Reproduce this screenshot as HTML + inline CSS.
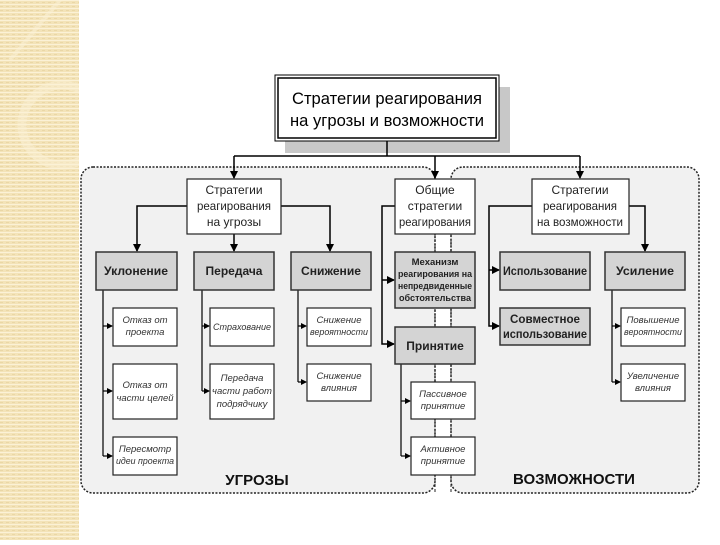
<!DOCTYPE html>
<html><head><meta charset="utf-8"><style>
html,body{margin:0;padding:0;background:#fff;}
svg text{font-family:"Liberation Sans",sans-serif;}
</style></head><body>
<svg width="720" height="540" viewBox="0 0 720 540" xmlns="http://www.w3.org/2000/svg">
<defs>
<pattern id="st" width="6" height="4" patternUnits="userSpaceOnUse">
<rect width="6" height="4" fill="#f3e3b8"/><rect y="0" width="6" height="1" fill="#fbf1d6"/><rect x="0" y="2" width="3" height="1" fill="#ead7a6"/>
</pattern>
<clipPath id="cl"><rect x="0" y="0" width="79" height="540"/></clipPath>
<marker id="a" markerWidth="8" markerHeight="8" refX="7" refY="4" orient="auto" markerUnits="userSpaceOnUse"><path d="M0,0 L8,4 L0,8 z" fill="#000"/></marker>
<marker id="s" markerWidth="6" markerHeight="6" refX="5" refY="3" orient="auto" markerUnits="userSpaceOnUse"><path d="M0,0 L6,3 L0,6 z" fill="#000"/></marker>
</defs>
<rect x="0" y="0" width="79" height="540" fill="url(#st)"/>
<g clip-path="url(#cl)" opacity="0.5">
<circle cx="62" cy="125" r="40" fill="none" stroke="#fbf1d6" stroke-width="9"/>
<path d="M10,60 L60,0" stroke="#fbf1d6" stroke-width="4"/>
</g>
<!-- regions -->
<rect x="81" y="167" width="354" height="326" rx="12" fill="#f1f1f1" stroke="#222" stroke-width="1.5" stroke-dasharray="2,1.5"/>
<rect x="451" y="167" width="248" height="326" rx="12" fill="#f1f1f1" stroke="#222" stroke-width="1.5" stroke-dasharray="2,1.5"/>
<g stroke="#222" stroke-dasharray="3,2" stroke-width="1"><line x1="435" y1="234" x2="435" y2="493"/><line x1="451" y1="234" x2="451" y2="493"/></g>
<!-- top box -->
<rect x="285" y="87" width="225" height="66" fill="#c8c8c8"/>
<rect x="275" y="75" width="224" height="66" fill="#fff" stroke="#000" stroke-width="1"/>
<rect x="278" y="78" width="218" height="60" fill="none" stroke="#000" stroke-width="1.5"/>
<text x="387" y="104" font-size="17" text-anchor="middle" textLength="190" lengthAdjust="spacingAndGlyphs">Стратегии реагирования</text>
<text x="387" y="126" font-size="17" text-anchor="middle" textLength="194" lengthAdjust="spacingAndGlyphs">на угрозы и возможности</text>
<g stroke="#000" stroke-width="1.5" fill="none">
<path d="M387,141 V156 M234,156 H580"/>
<path d="M234,156 V178" marker-end="url(#a)"/><path d="M435,156 V178" marker-end="url(#a)"/><path d="M580,156 V178" marker-end="url(#a)"/>
<path d="M187,206 H137 V251" marker-end="url(#a)"/><path d="M234,234 V251" marker-end="url(#a)"/><path d="M281,206 H330 V251" marker-end="url(#a)"/>
<path d="M395,206 H382 V344 H394" marker-end="url(#a)"/><path d="M382,280 H394" marker-end="url(#a)"/>
<path d="M532,206 H489 V326 H499" marker-end="url(#a)"/><path d="M489,270 H499" marker-end="url(#a)"/>
<path d="M629,206 H645 V251" marker-end="url(#a)"/>
</g>
<g stroke="#000" stroke-width="1.2" fill="none">
<path d="M103,290 V456"/><path d="M103,326 H112" marker-end="url(#s)"/><path d="M103,391 H112" marker-end="url(#s)"/><path d="M103,456 H112" marker-end="url(#s)"/>
<path d="M202,290 V391"/><path d="M202,326 H209" marker-end="url(#s)"/><path d="M202,391 H209" marker-end="url(#s)"/>
<path d="M298,290 V382"/><path d="M298,326 H306" marker-end="url(#s)"/><path d="M298,382 H306" marker-end="url(#s)"/>
<path d="M401,364 V456"/><path d="M401,401 H410" marker-end="url(#s)"/><path d="M401,456 H410" marker-end="url(#s)"/>
<path d="M612,290 V382"/><path d="M612,326 H620" marker-end="url(#s)"/><path d="M612,382 H620" marker-end="url(#s)"/>
</g>
<g fill="#fff" stroke="#222" stroke-width="1.2">
<rect x="187" y="179" width="94" height="55"/><rect x="395" y="179" width="80" height="55"/><rect x="532" y="179" width="97" height="55"/>
</g>
<g font-size="12" text-anchor="middle" fill="#222">
<text x="234" y="194">Стратегии</text><text x="234" y="210" textLength="74" lengthAdjust="spacingAndGlyphs">реагирования</text><text x="234" y="226">на угрозы</text>
<text x="435" y="194">Общие</text><text x="435" y="210">стратегии</text><text x="435" y="226" textLength="72" lengthAdjust="spacingAndGlyphs">реагирования</text>
<text x="580" y="194">Стратегии</text><text x="580" y="210" textLength="74" lengthAdjust="spacingAndGlyphs">реагирования</text><text x="580" y="226" textLength="86" lengthAdjust="spacingAndGlyphs">на возможности</text>
</g>
<g fill="#d4d4d4" stroke="#333" stroke-width="1.5">
<rect x="96" y="252" width="81" height="38"/><rect x="194" y="252" width="80" height="38"/><rect x="291" y="252" width="80" height="38"/>
<rect x="395" y="252" width="80" height="56"/><rect x="500" y="252" width="90" height="38"/><rect x="605" y="252" width="80" height="38"/>
<rect x="500" y="308" width="90" height="37"/><rect x="395" y="327" width="80" height="37"/>
</g>
<g font-size="12" font-weight="bold" text-anchor="middle" fill="#222">
<text x="136" y="275" textLength="64" lengthAdjust="spacingAndGlyphs">Уклонение</text><text x="234" y="275">Передача</text><text x="331" y="275" textLength="60" lengthAdjust="spacingAndGlyphs">Снижение</text>
<text x="545" y="275" textLength="84" lengthAdjust="spacingAndGlyphs">Использование</text><text x="645" y="275" textLength="58" lengthAdjust="spacingAndGlyphs">Усиление</text>
<text x="545" y="323" textLength="70" lengthAdjust="spacingAndGlyphs">Совместное</text><text x="545" y="338" textLength="84" lengthAdjust="spacingAndGlyphs">использование</text><text x="435" y="350">Принятие</text>
</g>
<g font-size="9.5" font-weight="bold" text-anchor="middle" fill="#222">
<text x="435" y="265">Механизм</text><text x="435" y="277" textLength="74" lengthAdjust="spacingAndGlyphs">реагирования на</text><text x="435" y="289" textLength="74" lengthAdjust="spacingAndGlyphs">непредвиденные</text><text x="435" y="301" textLength="72" lengthAdjust="spacingAndGlyphs">обстоятельства</text>
</g>
<g fill="#fff" stroke="#222" stroke-width="1.2">
<rect x="113" y="308" width="64" height="38"/><rect x="113" y="364" width="64" height="55"/><rect x="113" y="437" width="64" height="38"/>
<rect x="210" y="308" width="64" height="38"/><rect x="210" y="364" width="64" height="55"/>
<rect x="307" y="308" width="64" height="38"/><rect x="307" y="364" width="64" height="37"/>
<rect x="411" y="382" width="64" height="37"/><rect x="411" y="437" width="64" height="38"/>
<rect x="621" y="308" width="64" height="38"/><rect x="621" y="364" width="64" height="37"/>
</g>
<g font-size="9.5" font-style="italic" text-anchor="middle" fill="#333">
<text x="145" y="323">Отказ от</text><text x="145" y="335">проекта</text>
<text x="145" y="388">Отказ от</text><text x="145" y="401">части целей</text>
<text x="145" y="452">Пересмотр</text><text x="145" y="464" textLength="58" lengthAdjust="spacingAndGlyphs">идеи проекта</text>
<text x="242" y="330" textLength="58" lengthAdjust="spacingAndGlyphs">Страхование</text>
<text x="242" y="381">Передача</text><text x="242" y="394">части работ</text><text x="242" y="407">подрядчику</text>
<text x="339" y="323">Снижение</text><text x="339" y="335" textLength="58" lengthAdjust="spacingAndGlyphs">вероятности</text>
<text x="339" y="379">Снижение</text><text x="339" y="391">влияния</text>
<text x="443" y="397">Пассивное</text><text x="443" y="409">принятие</text>
<text x="443" y="452">Активное</text><text x="443" y="464">принятие</text>
<text x="653" y="323">Повышение</text><text x="653" y="335" textLength="58" lengthAdjust="spacingAndGlyphs">вероятности</text>
<text x="653" y="379">Увеличение</text><text x="653" y="391">влияния</text>
</g>
<text x="257" y="485" font-size="15" font-weight="bold" text-anchor="middle" fill="#111">УГРОЗЫ</text>
<text x="574" y="484" font-size="15" font-weight="bold" text-anchor="middle" fill="#111">ВОЗМОЖНОСТИ</text>
</svg>
</body></html>
